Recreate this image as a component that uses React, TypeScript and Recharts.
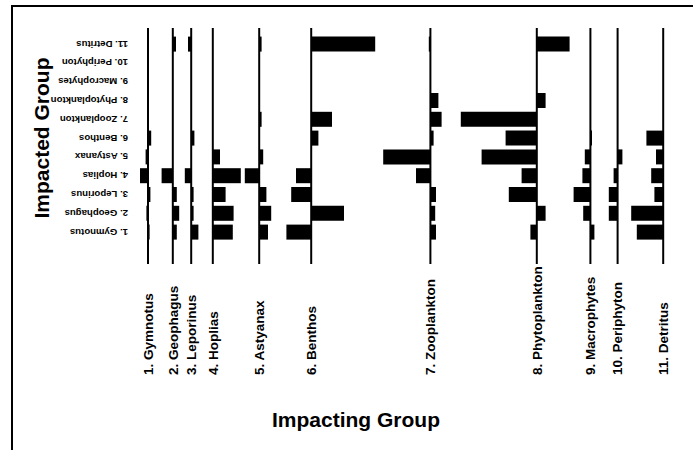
import { BarChart, Bar, XAxis, YAxis, ReferenceLine } from 'recharts';

// impacted groups (rows, 1 at the bottom)
const impactedGroups = [
    '1. Gymnotus', '2. Geophagus', '3. Leporinus', '4. Hoplias', '5. Astyanax', '6. Benthos',
    '7. Zooplankton', '8. Phytoplankton', '9. Macrophytes', '10. Periphyton', '11. Detritus',
];

// impacting groups (columns) and where each column's zero line sits on the x scale
const impactingGroups = [
    '1. Gymnotus', '2. Geophagus', '3. Leporinus', '4. Hoplias', '5. Astyanax', '6. Benthos',
    '7. Zooplankton', '8. Phytoplankton', '9. Macrophytes', '10. Periphyton', '11. Detritus',
];
const columnPositions = [0.35, 0.66, 0.89, 1.16, 1.74, 2.39, 3.88, 5.21, 5.88, 6.22, 6.79];

// mixed trophic impact of each impacting group on impacted groups 1..11
const gymnotus = [0.02, -0.02, 0.03, -0.1, -0.03, 0.04, 0, 0, 0, 0, 0];
const geophagus = [0.05, 0.08, 0.05, -0.14, 0, 0, 0, 0, 0, 0, 0.04];
const leporinus = [0.09, 0.03, 0.03, -0.08, 0, 0.04, 0, 0, 0, 0, -0.04];
const hoplias = [0.25, 0.26, 0.16, 0.35, 0.09, 0, 0, 0, 0, 0, 0];
const astyanax = [0.11, 0.15, 0.09, -0.18, 0.05, 0, 0.03, 0, 0, 0, 0.03];
const benthos = [-0.31, 0.41, -0.25, -0.19, 0, 0.09, 0.26, 0, 0, 0, 0.8];
const zooplankton = [0.07, 0.06, 0.07, -0.18, -0.59, 0.04, 0.14, 0.1, 0, 0, -0.02];
const phytoplankton = [-0.08, 0.11, -0.35, -0.19, -0.69, -0.39, -0.95, 0.11, 0, 0, 0.41];
const macrophytes = [0.05, -0.09, -0.21, -0.1, -0.07, 0.02, 0, 0, 0, 0, 0];
const periphyton = [0, -0.11, -0.11, -0.05, 0.06, 0, 0, 0, 0, 0, 0];
const detritus = [-0.33, -0.4, -0.11, -0.15, -0.09, -0.21, 0, 0, 0, 0, 0];

const series = [gymnotus, geophagus, leporinus, hoplias, astyanax, benthos,
    zooplankton, phytoplankton, macrophytes, periphyton, detritus];

const data = impactedGroups.map((name, i) => {
    const row: any = { name };
    series.forEach((values, j) => { row['c' + j] = values[i]; });
    return row;
});

const font = '"Liberation Sans", Arial, sans-serif';

const RowTick = ({ x, y, payload }: any) => {
    const tx = x + 8;
    return (
        <text x={tx} y={y} dy="0.35em" transform={`rotate(180 ${tx} ${y})`} textAnchor="start"
            fontFamily={font} fontSize={9.6} fontWeight="bold" fill="#000">
            {payload.value}
        </text>
    );
};

const ColumnTick = ({ x, y, payload }: any) => {
    const ty = y + 111;
    const idx = columnPositions.indexOf(payload.value);
    return (
        <text x={x} y={ty} dy="0.35em" transform={`rotate(-90 ${x} ${ty})`} textAnchor="start"
            fontFamily={font} fontSize={13.5} fontWeight="bold" fill="#000">
            {impactingGroups[idx]}
        </text>
    );
};

const App = () => {
    return (
        <div style={{ position: 'absolute', left: 0, top: 0, width: 693, height: 450, background: '#fff', fontFamily: font }}>
            <div style={{ position: 'absolute', left: 11, top: 5, width: 682, height: 445, borderLeft: '2px solid #000', borderTop: '2px solid #000' }} />
            <BarChart width={693} height={450} data={data} layout="vertical"
                margin={{ top: 28, right: 13, bottom: 36, left: 20 }} barSize={15} barGap={-15}>
                <XAxis type="number" domain={[0, 7]} ticks={columnPositions} interval={0} height={150}
                    axisLine={false} tickLine={false} tickSize={0} tickMargin={0} tick={<ColumnTick />} />
                <YAxis type="category" dataKey="name" reversed width={100} padding={{ top: 6.6, bottom: 22.6 }}
                    axisLine={false} tickLine={false} tickSize={0} tickMargin={0} tick={<RowTick />} interval={0} />
                {columnPositions.map((p) => (
                    <ReferenceLine key={p} x={p} stroke="#000" strokeWidth={2} />
                ))}
                {series.map((_, j) => (
                    <Bar key={j} fill="#000" isAnimationActive={false}
                        dataKey={(row: any) => {
                            const base = columnPositions[j];
                            const end = base + row['c' + j];
                            return [Math.min(base, end), Math.max(base, end)];
                        }} />
                ))}
            </BarChart>
            <div style={{ position: 'absolute', left: -58, top: 126, width: 200, height: 24, lineHeight: '24px', textAlign: 'center',
                transform: 'rotate(-90deg)', fontSize: 21, fontWeight: 'bold', color: '#000' }}>
                Impacted Group
            </div>
            <div style={{ position: 'absolute', left: 256, top: 409, width: 200, lineHeight: 1, textAlign: 'center',
                fontSize: 21, fontWeight: 'bold', color: '#000' }}>
                Impacting Group
            </div>
        </div>
    );
};

export default App;
